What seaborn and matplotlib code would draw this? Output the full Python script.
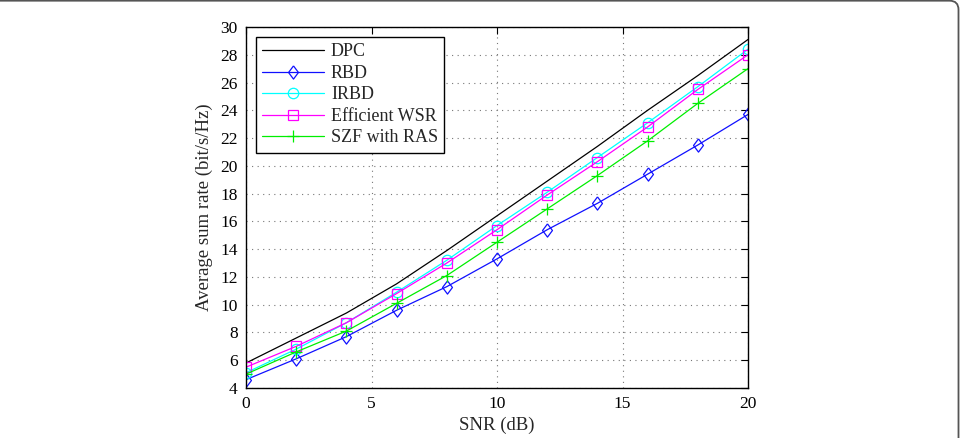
"""
Average sum rate vs SNR for DPC, RBD, IRBD, Efficient WSR and SZF with RAS.
"""

import pandas as pd
import matplotlib
matplotlib.use("Agg")
import matplotlib.pyplot as plt
from matplotlib.patches import FancyBboxPatch
from matplotlib.transforms import IdentityTransform
import seaborn as sns

# === data ===
snr_db = [0, 2, 4, 6, 8, 10, 12, 14, 16, 18, 20]
dpc = [5.8, 7.6, 9.4, 11.5, 13.9, 16.4, 18.9, 21.4, 24.0, 26.5, 29.1]
rbd = [4.6, 6.1, 7.7, 9.6, 11.3, 13.3, 15.4, 17.3, 19.4, 21.5, 23.7]
irbd = [5.1, 6.8, 8.7, 10.9, 13.2, 15.7, 18.1, 20.6, 23.1, 25.7, 28.4]
eff_wsr = [5.5, 7.0, 8.7, 10.8, 13.0, 15.4, 17.9, 20.3, 22.8, 25.5, 28.0]
szf_ras = [5.0, 6.6, 8.1, 10.1, 12.1, 14.5, 16.9, 19.3, 21.8, 24.5, 27.0]

series_names = ["DPC", "RBD", "IRBD", "Efficient WSR", "SZF with RAS"]
series_values = [dpc, rbd, irbd, eff_wsr, szf_ras]

x_ticks = [0, 5, 10, 15, 20]
y_ticks = list(range(4, 31, 2))

# === styles ===
diamond = [(0, 1), (0.75, 0), (0, -1), (-0.75, 0), (0, 1)]
colors = ["k", "#1010ff", "#00ffff", "#ff00ff", "#00ee00"]
markers = [None, diamond, "o", "s", "+"]
msizes = [0, 9.5, 7.5, 7, 9]

df = pd.DataFrame({
    "snr": snr_db * len(series_names),
    "rate": [v for vals in series_values for v in vals],
    "scheme": [n for n in series_names for _ in snr_db],
})

sns.set_style("white")
plt.rcParams["font.family"] = ["Liberation Serif", "DejaVu Serif"]

fig = plt.figure(figsize=(9.63, 4.38), dpi=100)
ax = fig.add_axes([246 / 963, 1 - 388 / 438, 502 / 963, 361 / 438])

for name, col, mk, ms in zip(series_names, colors, markers, msizes):
    sub = df[df["scheme"] == name]
    sns.lineplot(
        data=sub, x="snr", y="rate", ax=ax, color=col, label=name,
        marker=mk, markersize=ms, markerfacecolor="none",
        markeredgecolor=col, markeredgewidth=0.9, linewidth=0.9,
        errorbar=None, sort=False,
    )

ax.set_xlim(0, 20)
ax.set_ylim(4, 30)
ax.set_xticks(x_ticks)
ax.set_yticks(y_ticks)
ax.tick_params(direction="in", length=5, width=0.8, top=True, right=True,
               labelsize=12.5, colors="k", pad=6)
ax.grid(True, linestyle=(0, (1, 4)), color="#777777", linewidth=0.8)
for sp in ax.spines.values():
    sp.set_visible(True)
    sp.set_color("k")
    sp.set_linewidth(1.0)

ax.set_xlabel("SNR (dB)", fontsize=13.5, labelpad=3)
ax.set_ylabel("Average sum rate (bit/s/Hz)", fontsize=13.5, labelpad=5)

leg = ax.legend(
    loc="upper left", bbox_to_anchor=(10 / 502, 1 - 10 / 361),
    borderaxespad=0, fontsize=13, frameon=True, fancybox=False,
    handlelength=3.4, handletextpad=0.4, labelspacing=0.25,
    borderpad=0.35, edgecolor="k", framealpha=1,
)
leg.get_frame().set_linewidth(1.0)

# rounded frame around the panel (top and right edges only visible)
frame = FancyBboxPatch(
    (-30, -30), 958.5 + 30, 437.3 + 30,
    boxstyle="round,pad=0,rounding_size=9",
    transform=IdentityTransform(), facecolor="none",
    edgecolor="#555555", linewidth=1.3, clip_on=False,
)
fig.patches.append(frame)

fig.savefig("out.png", dpi=100)
